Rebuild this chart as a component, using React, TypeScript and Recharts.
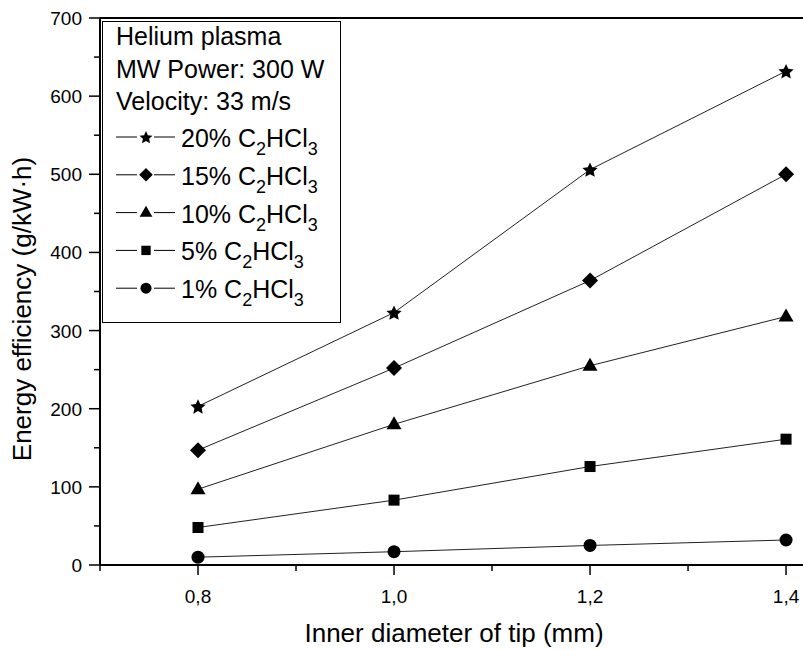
import { LineChart, Line, XAxis, YAxis, Legend, ReferenceLine, Label } from 'recharts'

const FONT = '"Liberation Sans", Arial, Helvetica, sans-serif'

// inner diameter of tip (mm)
const diameters = [0.8, 1.0, 1.2, 1.4]

// energy efficiency (g/kW·h) per C2HCl3 concentration
const eff20 = [203, 323, 506, 632]
const eff15 = [147, 252, 364, 500]
const eff10 = [97, 180, 255, 318]
const eff5 = [48, 83, 126, 161]
const eff1 = [10, 17, 25, 32]

const seriesKeys = ['p20', 'p15', 'p10', 'p5', 'p1']
const seriesLabels = ['20%', '15%', '10%', '5%', '1%']
const seriesShapes = ['star', 'diamond', 'triangle', 'square', 'circle']

const infoLines = ['Helium plasma', 'MW Power: 300 W', 'Velocity: 33 m/s']

const xTicks = [0.7, 0.8, 0.9, 1.0, 1.1, 1.2, 1.3, 1.4]
const yTicks = [0, 50, 100, 150, 200, 250, 300, 350, 400, 450, 500, 550, 600, 650, 700]

const data = diameters.map((d, i) => ({
  d,
  p20: eff20[i],
  p15: eff15[i],
  p10: eff10[i],
  p5: eff5[i],
  p1: eff1[i],
}))

function starPath(cx: number, cy: number, r: number) {
  const inner = r * 0.48
  let d = ''
  for (let i = 0; i < 10; i++) {
    const rad = i % 2 === 0 ? r : inner
    const a = -Math.PI / 2 + (i * Math.PI) / 5
    d += `${i === 0 ? 'M' : 'L'}${cx + rad * Math.cos(a)},${cy + rad * Math.sin(a)}`
  }
  return d + 'Z'
}

function Marker({ shape, cx, cy, s = 1 }: { shape: string; cx: number; cy: number; s?: number }) {
  if (cx == null || cy == null) return null
  switch (shape) {
    case 'star':
      return <path d={starPath(cx, cy + 0.8, 8 * s)} fill="#000" />
    case 'diamond': {
      const h = 8 * s
      return <path d={`M${cx},${cy - h}L${cx + h},${cy}L${cx},${cy + h}L${cx - h},${cy}Z`} fill="#000" />
    }
    case 'triangle': {
      const w = 7.5 * s
      return <path d={`M${cx},${cy - 8 * s}L${cx + w},${cy + 5 * s}L${cx - w},${cy + 5 * s}Z`} fill="#000" />
    }
    case 'square': {
      const h = 5.5 * s
      return <rect x={cx - h} y={cy - h} width={2 * h} height={2 * h} fill="#000" />
    }
    default:
      return <circle cx={cx} cy={cy} r={6.5 * s} fill="#000" />
  }
}

const XTick = ({ x, y, payload }: any) => {
  const v = payload.value
  const major = Math.round(v * 10) % 2 === 0
  return (
    <g>
      <line x1={x} x2={x} y1={y} y2={y + (major ? 10 : 6)} stroke="#000" strokeWidth={1.5} />
      {major && (
        <text x={x} y={y + 38} textAnchor="middle" fontFamily={FONT} fontSize={19} fill="#000">
          {v.toFixed(1).replace('.', ',')}
        </text>
      )}
    </g>
  )
}

const YTick = ({ x, y, payload }: any) => {
  const v = payload.value
  const major = v % 100 === 0
  return (
    <g>
      <line x1={x} x2={x - (major ? 11 : 6)} y1={y} y2={y} stroke="#000" strokeWidth={1.5} />
      {major && (
        <text x={x - 18} y={y + 7} textAnchor="end" fontFamily={FONT} fontSize={19} fill="#000">
          {v}
        </text>
      )}
    </g>
  )
}

const renderLegend = () => {
  const w = 239
  const h = 302
  return (
    <svg width={w} height={h} style={{ display: 'block' }}>
      <rect x={0.5} y={0.5} width={w - 1} height={h - 1} fill="#fff" stroke="#000" strokeWidth={1} />
      {infoLines.map((t, i) => (
        <text key={t} x={14} y={24 + i * 32.5} fontFamily={FONT} fontSize={25} fill="#000">
          {t}
        </text>
      ))}
      {seriesLabels.map((lab, i) => {
        const base = 126 + i * 37.8
        const cy = base - 10
        return (
          <g key={lab}>
            <line x1={14} x2={73} y1={cy} y2={cy} stroke="#000" strokeWidth={1} />
            <rect x={35} y={cy - 9} width={17} height={18} fill="#fff" />
            <Marker shape={seriesShapes[i]} cx={44} cy={cy} s={0.85} />
            <text x={79} y={base} fontFamily={FONT} fontSize={25} fill="#000">
              {lab} C
              <tspan fontSize={18} dy={8}>2</tspan>
              <tspan dy={-8}>HCl</tspan>
              <tspan fontSize={18} dy={8}>3</tspan>
            </text>
          </g>
        )
      })}
    </svg>
  )
}

export default function App() {
  return (
    <div style={{ position: 'absolute', left: 0, top: 0, width: 803, height: 650, background: '#fff' }}>
      <LineChart width={803} height={650} data={data} margin={{ top: 18, right: 0, bottom: 0, left: 0 }}>
        <XAxis
          dataKey="d"
          type="number"
          domain={[0.7, 1.4173]}
          allowDataOverflow
          ticks={xTicks}
          interval={0}
          height={85}
          tickSize={0}
          tickMargin={0}
          tickLine={false}
          tick={<XTick />}
          axisLine={{ stroke: '#000', strokeWidth: 2 }}
        >
          <Label
            content={() => (
              <text x={454} y={642} textAnchor="middle" fontFamily={FONT} fontSize={26} fill="#000">
                Inner diameter of tip (mm)
              </text>
            )}
          />
        </XAxis>
        <YAxis
          type="number"
          domain={[0, 700]}
          ticks={yTicks}
          interval={0}
          width={100}
          tickSize={0}
          tickMargin={0}
          tickLine={false}
          tick={<YTick />}
          axisLine={{ stroke: '#000', strokeWidth: 2 }}
        >
          <Label
            content={() => (
              <text
                x={31}
                y={309}
                transform="rotate(-90, 31, 309)"
                textAnchor="middle"
                fontFamily={FONT}
                fontSize={26}
                fill="#000"
              >
                Energy efficiency (g/kW·h)
              </text>
            )}
          />
        </YAxis>
        <ReferenceLine y={700} stroke="#000" strokeWidth={2} />
        <Legend
          layout="vertical"
          align="center"
          verticalAlign="middle"
          wrapperStyle={{ left: 102, top: 21, width: 239, height: 302 }}
          content={renderLegend}
        />
        {seriesKeys.map((k, i) => (
          <Line
            key={k}
            dataKey={k}
            stroke="#222"
            strokeWidth={1}
            isAnimationActive={false}
            dot={(p: any) => <Marker key={`${k}-${p.index}`} shape={seriesShapes[i]} cx={p.cx} cy={p.cy} />}
            activeDot={false}
          />
        ))}
      </LineChart>
    </div>
  )
}
